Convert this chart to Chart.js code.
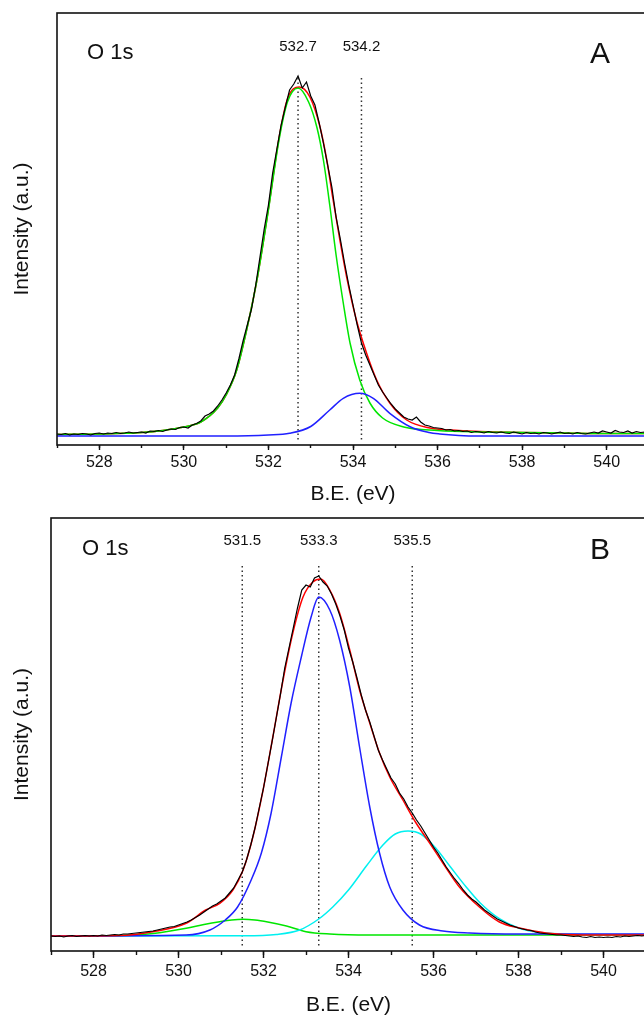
<!DOCTYPE html>
<html><head><meta charset="utf-8">
<script src="https://cdn.jsdelivr.net/npm/chart.js@4.4.1/dist/chart.umd.min.js"></script>
<style>
html,body{margin:0;padding:0;background:#fff;width:644px;height:1019px;overflow:hidden;position:relative;}
canvas{position:absolute;left:0;}
#cA{top:0;} #cB{top:505px;}
</style></head><body>
<canvas id="cA" width="700" height="515" style="width:700px;height:515px"></canvas>
<canvas id="cB" width="700" height="530" style="width:700px;height:530px"></canvas>
<script>
// ---------- shared axis data ----------
const majorTicks = [528, 530, 532, 534, 536, 538, 540];
const minorTicks = [527, 528, 529, 530, 531, 532, 533, 534, 535, 536, 537, 538, 539, 540, 541];
const BE = [
527.0,527.1,527.2,527.3,527.4,527.5,527.6,527.7,527.8,527.9,
528.0,528.1,528.2,528.3,528.4,528.5,528.6,528.7,528.8,528.9,
529.0,529.1,529.2,529.3,529.4,529.5,529.6,529.7,529.8,529.9,
530.0,530.1,530.2,530.3,530.4,530.5,530.6,530.7,530.8,530.9,
531.0,531.1,531.2,531.3,531.4,531.5,531.6,531.7,531.8,531.9,
532.0,532.1,532.2,532.3,532.4,532.5,532.6,532.7,532.8,532.9,
533.0,533.1,533.2,533.3,533.4,533.5,533.6,533.7,533.8,533.9,
534.0,534.1,534.2,534.3,534.4,534.5,534.6,534.7,534.8,534.9,
535.0,535.1,535.2,535.3,535.4,535.5,535.6,535.7,535.8,535.9,
536.0,536.1,536.2,536.3,536.4,536.5,536.6,536.7,536.8,536.9,
537.0,537.1,537.2,537.3,537.4,537.5,537.6,537.7,537.8,537.9,
538.0,538.1,538.2,538.3,538.4,538.5,538.6,538.7,538.8,538.9,
539.0,539.1,539.2,539.3,539.4,539.5,539.6,539.7,539.8,539.9,
540.0,540.1,540.2,540.3,540.4,540.5,540.6,540.7,540.8,540.9,
541.0];

// ---------- panel A ----------
const dataA = [
11,10.5,11.5,10,11,10.5,11.5,11,10,11.5,
12,11,12,11.5,12.5,11.5,12,13,12,12.5,
13,12,14,13.5,14.5,13.5,15,16,15.5,17.5,
18,17,20,21.5,24,29,31,34,39,45,
52,60,70,86,104,120,136,160,188,216,
240,272,296,320,338,355,361,369,357,363,
349,340,322,302,280,258,228,206,182,160,
140,120,102,90,80,70,60,53,47,41,
36,32,28,26,25,28,23,20,19,17.5,
17,16.5,15,15.5,14,14.5,13.5,14,12.5,13.5,
13,12,13.5,12.5,12,13,12,11.5,13,12,
11,12.5,11.5,12,11,12.5,12,11,12,13,
11.5,12,11,12.5,11.5,11,12,13,12,14,
13,12,14.5,13,12.5,14,12,13.5,12.5,13,
12.5];
const greenA_x = [527,528,529,529.5,530,530.4,530.8,531.0,531.25,531.5,531.75,532.0,532.25,532.45,532.7,532.95,533.15,533.3,533.45,533.6,533.77,533.93,534.16,534.4,534.7,535.2,536.0,537,538,539,540,541];
const greenA_y = [10.5,11,12.5,14.5,18,23,37,50,75,118,170,235,305,343,357,343,317,285,240,190,142,102,65,42,27,18,14.5,13,12.5,12,11.5,11.5];
const blueA_x = [527,531,532,532.5,533.0,533.45,533.77,534.16,534.48,534.87,535.35,535.8,536.05,536.5,537,541];
const blueA_y = [9,9,10,11.7,18.5,35,46.7,51.7,46.7,31.7,18.3,12.5,11,9.5,9,9];
const redA_x = [527,528,529,529.5,530,530.4,530.8,531.0,531.25,531.5,531.75,532.0,532.25,532.45,532.73,532.98,533.22,533.38,533.53,533.69,533.85,534.08,534.32,534.56,534.87,535.27,535.82,536.5,537,538,539,540,541];
const redA_y = [10.5,11,12.5,14.5,18,23,37,50,75,118,170,236,307,346,358,348,318,285,245,205,168,125,92,65,42,25,17,14.5,13.5,12.5,12,11.5,11.5];
const peaksA = [532.7, 534.2];
const dotA = [367, 3];

// ---------- panel B ----------
const dataB = [
14,13.5,14,13,14,14.5,13.5,14,14.5,14,
14.5,14,15,14.5,15,15.5,15,16,16,16.5,
17,17.5,18,18.5,19,20,21,22,23,23.5,
25,26.5,28,30,32.5,35,38,41,44,46,
49,52,57,62,70,78,90,105,122,142,
162,185,208,232,256,282,302,322,342,360,
365,363,372,374,368,364,356,346,334,320,
302,288,272,255,240,228,214,200,190,181,
172,166,157,151,143,137,130,124,117,110,
103,97,90,83,77,71,66,60,55,51,
48,44,40,37,34,31,29,27,25,23.5,
22,21,20,19.5,18,17,16.5,16,15.5,15,
15,14.5,14,13.5,14,13,12.5,13.5,12.5,13,
12.5,13,12.5,13.5,13,14,13.5,14,14.5,14,
14.5];
const blueB_x = [527,530.18,530.74,531.1,531.39,531.71,531.95,532.18,532.42,532.65,532.89,533.12,533.3,533.56,533.79,534.03,534.26,534.5,534.73,534.97,535.28,535.67,536.22,536.85,538,541];
const blueB_y = [14,15,20,30,43,70,97,137,193,247,293,333,353,340,310,263,203,143,97,63,40,25,19,17,16,16];
const greenB_x = [527,528.6,529.4,530.18,530.6,530.97,531.25,531.52,531.8,532.1,532.54,533.0,533.56,534.5,536,541];
const greenB_y = [14,14.5,16.5,21.7,25.5,28.3,30,30.7,30,28,24,18.3,16,15,15,15];
const cyanB_x = [527,531.5,532.3,532.85,533.3,533.63,534.0,534.42,534.81,535.1,535.4,535.7,536.07,536.4,536.77,537.1,537.56,538.0,538.34,538.8,539.5,541];
const cyanB_y = [14,14.2,15.5,20,31,43,60,84,105,116,119,116,101,83,63,47,31,22,18.5,16.5,15.5,15.5];
const redB_x = [527,528.61,529.39,530.18,530.64,530.97,531.28,531.52,531.75,531.99,532.22,532.46,532.69,532.93,533.16,533.35,533.56,533.79,534.03,534.26,534.5,534.73,534.97,535.28,535.59,535.91,536.22,536.61,537.08,537.55,538.02,538.65,539.5,541];
const redB_y = [14,14.5,18.3,26.7,40,46.7,60,80,113,160,213,270,317,353,368,371,360,337,300,260,227,197,173,150,127,107,87,63,43,28,22,17,15,15];
const peaksB = [531.5, 533.3, 535.5];
const dotB = [384, 3];

// ---------- helpers ----------
const FONT = "'Liberation Sans', Arial, sans-serif";
const pts = (xs, ys) => xs.map((x, i) => ({x: x, y: ys[i]}));
const curve = (xs, ys, color, w) => ({data: pts(xs, ys), borderColor: color, borderWidth: w, pointRadius: 0, fill: false, cubicInterpolationMode: 'monotone'});
const raw = (ys, color) => ({data: pts(BE, ys), borderColor: color, borderWidth: 1.2, pointRadius: 0, fill: false, tension: 0});
const dotted = (p, d) => ({data: [{x: p, y: d[0]}, {x: p, y: d[1]}], borderColor: '#333', borderWidth: 1.5, borderDash: [1.5, 3], pointRadius: 0, fill: false});

const framePlugin = {
  id: 'frame',
  afterDatasetsDraw(chart) {
    const {ctx, chartArea: a} = chart;
    ctx.save(); ctx.strokeStyle = '#111'; ctx.lineWidth = 1.6;
    ctx.strokeRect(a.left, a.top, a.right - a.left, a.bottom - a.top);
    ctx.restore();
  }
};
const textPlugin = {
  id: 'texts',
  afterDraw(chart, args, o) {
    const ctx = chart.ctx, xs = chart.scales.x;
    ctx.save(); ctx.fillStyle = '#111'; ctx.textBaseline = 'middle';
    ctx.textAlign = 'center'; ctx.font = '15px ' + FONT;
    o.peaks.forEach(p => ctx.fillText(p.toFixed(1), xs.getPixelForValue(p), o.peakY));
    ctx.textAlign = 'left'; ctx.font = '22px ' + FONT;
    ctx.fillText('O 1s', o.oX, o.oY);
    ctx.textAlign = 'center'; ctx.font = '30px ' + FONT;
    ctx.fillText(o.letter, o.lX, o.lY);
    ctx.restore();
  }
};

function makeChart(id, c) {
  return new Chart(document.getElementById(id), {
    type: 'line',
    data: {datasets: c.datasets},
    options: {
      responsive: false, animation: false, devicePixelRatio: 1,
      layout: {autoPadding: false, padding: {left: 0, top: c.top, right: 700 - c.right, bottom: 0}},
      plugins: {legend: {display: false}, tooltip: {enabled: false}, texts: c.texts},
      scales: {
        x: {type: 'linear', min: 527, max: 541, position: 'bottom',
          afterBuildTicks: s => { s.ticks = majorTicks.map(v => ({value: v})); },
          afterFit: s => { s.height = c.xh; },
          ticks: {font: {family: FONT, size: 16}, color: '#111', padding: c.tickPad, maxRotation: 0, autoSkip: false, callback: v => String(v)},
          grid: {drawOnChartArea: false, drawTicks: true, tickLength: c.majorLen, tickColor: '#111', tickWidth: 1.4},
          border: {display: false},
          title: {display: true, text: 'B.E. (eV)', font: {family: FONT, size: 21}, color: '#111', padding: {top: 0, bottom: c.titlePad}}},
        xm: {type: 'linear', axis: 'x', min: 527, max: 541, position: {y: c.yMin},
          afterBuildTicks: s => { s.ticks = minorTicks.map(v => ({value: v})); },
          ticks: {display: false},
          grid: {drawOnChartArea: false, drawTicks: true, tickLength: c.minorLen, tickColor: '#111', tickWidth: 1.4},
          border: {display: false}},
        y: {type: 'linear', min: c.yMin, max: c.yMax, position: 'left',
          afterFit: s => { s.width = c.left; },
          ticks: {display: false}, grid: {display: false}, border: {display: false},
          title: {display: true, text: 'Intensity (a.u.)', font: {family: FONT, size: 21}, color: '#111', padding: {top: 9.4, bottom: 0}}}
      }
    },
    plugins: [framePlugin, textPlugin]
  });
}

makeChart('cA', {
  top: 13, right: 649, left: 57, xh: 70, yMin: 0, yMax: 432,
  tickPad: 3, majorLen: 5, minorLen: 3, titlePad: 8.4,
  texts: {peaks: peaksA, peakY: 46.7, oX: 87, oY: 53, letter: 'A', lX: 600, lY: 55},
  datasets: [
    raw(dataA, '#000'),
    curve(blueA_x, blueA_y, '#2020ff', 1.5),
    curve(greenA_x, greenA_y, '#00e600', 1.5),
    curve(redA_x, redA_y, '#ff0000', 1.5),
    ...peaksA.map(p => dotted(p, dotA))
  ]
});

makeChart('cB', {
  top: 13, right: 646, left: 51, xh: 84, yMin: -1, yMax: 432,
  tickPad: 4, majorLen: 7, minorLen: 4, titlePad: 17.4,
  texts: {peaks: peaksB, peakY: 35.7, oX: 82, oY: 44, letter: 'B', lX: 600, lY: 46},
  datasets: [
    raw(dataB, '#000'),
    curve(redB_x, redB_y, '#ff0000', 1.5),
    curve(blueB_x, blueB_y, '#2020ff', 1.5),
    curve(cyanB_x, cyanB_y, '#00f0f0', 1.5),
    curve(greenB_x, greenB_y, '#00e600', 1.5),
    ...peaksB.map(p => dotted(p, dotB))
  ]
});
</script>
</body></html>
